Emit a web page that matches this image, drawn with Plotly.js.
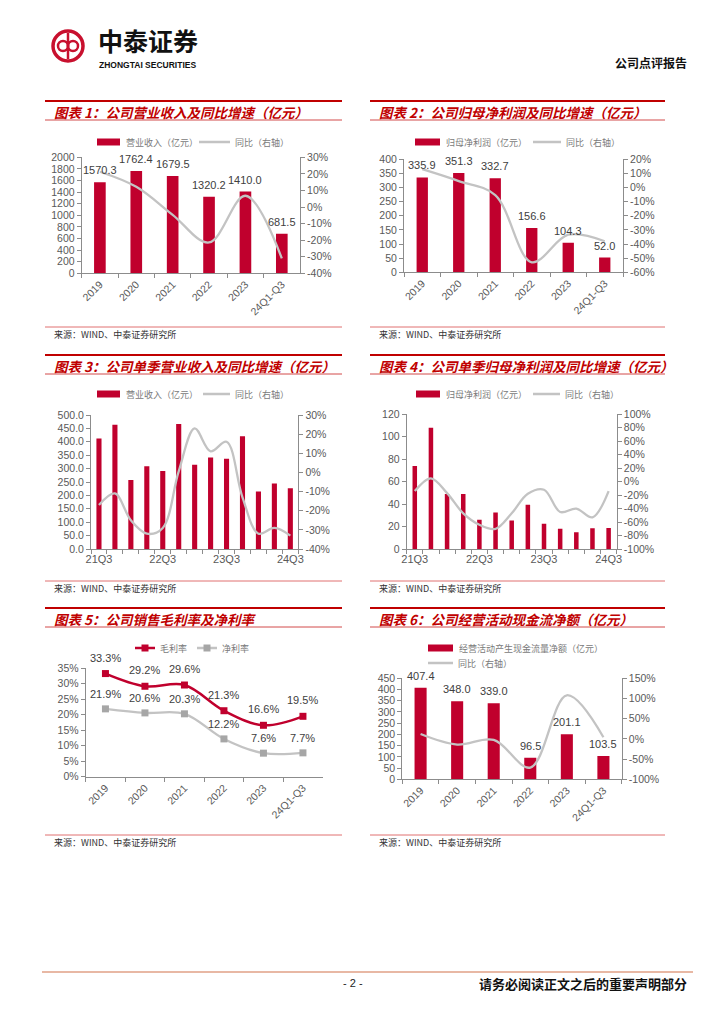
<!DOCTYPE html>
<html><head><meta charset="utf-8">
<script src="https://cdn.plot.ly/plotly-3.0.1.min.js"></script>
<style>html,body{margin:0;padding:0;background:#fff;}#page{width:724px;height:1024px;}</style>
</head><body><div id="page"></div>
<script>
// ---------------- data ----------------
const years = ['2019','2020','2021','2022','2023','24Q1-Q3'];
const revenue = [1570.3,1762.4,1679.5,1320.2,1410.0,681.5];
const revenueYoY = [21.3,12.2,-4.7,-21.4,6.8,-31.0];
const netProfit = [335.9,351.3,332.7,156.6,104.3,52.0];
const netProfitYoY = [13.0,4.6,-5.3,-52.9,-33.4,-38.0];
const quarters = ['21Q3','21Q4','22Q1','22Q2','22Q3','22Q4','23Q1','23Q2','23Q3','23Q4','24Q1','24Q2','24Q3'];
const qRevenue = [412,464,257,309,291,466,314,341,337,421,215,244,227];
const qRevenueYoY = [-17,-11,-25,-32,-29,0.5,23,11,16,-13,-32,-29,-33];
const qNetProfit = [74,108,49,49,26,32.5,25.5,39.5,22.5,18,15,18.5,18.7];
const qNetProfitYoY = [-14,5,-17,-47,-64,-70,-47,-18,-12,-45,-40,-53,-14];
const grossMargin = [33.3,29.2,29.6,21.3,16.6,19.5];
const netMargin = [21.9,20.6,20.3,12.2,7.6,7.7];
const opCashFlow = [407.4,348.0,339.0,96.5,201.1,103.5];
const opCashFlowYoY = [12,-14,-2.6,-71,108,4];
const quarterLabelEvery = 4;

// ---------------- helpers ----------------
const W=724,H=1024;
const X=p=>p/W, Y=p=>1-p/H;
const RED='#C0002D', GRAY='#C3C3C3', GRAYM='#A6A6A6', AX='#8C8C8C', TX='#595959', LBL='#404040', HRED='#C00000';
const FONT='Liberation Sans, Arial, sans-serif';
const CJK='Noto Sans CJK SC, sans-serif';

function pctTicks(lo,hi,step){const v=[],t=[];for(let a=lo;a<=hi+1e-9;a+=step){v.push(a);t.push(a+'%');}return {tickmode:'array',tickvals:v,ticktext:t};}
const baseAx = {showline:true,linecolor:AX,linewidth:1,ticks:'outside',ticklen:4,tickcolor:AX,showgrid:false,zeroline:false,fixedrange:true,tickfont:{family:FONT,size:10.5,color:TX}};
function yLeft(t,b,anchor,range,dtick,extra){return Object.assign({},baseAx,{domain:[Y(b),Y(t)],anchor:anchor,range:range,dtick:dtick,tick0:0},extra||{});}
function yRight(over,anchor,range,step){return Object.assign({},baseAx,{overlaying:over,side:'right',anchor:anchor,range:range},pctTicks(range[0],range[1],step));}
function xYears(l,r,anchor){return Object.assign({},baseAx,{domain:[X(l),X(r)],anchor:anchor,type:'category',range:[-0.5,years.length-0.5],tickson:'boundaries',tickangle:-45});}
function xQuarters(l,r,anchor){return Object.assign({},baseAx,{domain:[X(l),X(r)],anchor:anchor,type:'category',range:[-0.5,quarters.length-0.5],tickson:'boundaries',tickangle:0,tickmode:'array',tickvals:quarters,ticktext:quarters.map((q,i)=>i%quarterLabelEvery===0?q:''),tickfont:{family:FONT,size:11,color:TX}});}

const lineStyle = {color:GRAY,width:2.3,shape:'spline',smoothing:1};
const traces = [];
function bar(x,y,xa,ya,w,name){traces.push({type:'bar',x:x,y:y,xaxis:xa,yaxis:ya,width:w,marker:{color:RED,line:{width:0}},name:name,hoverinfo:'skip',cliponaxis:false});}
function line(x,y,xa,ya,name){traces.push({type:'scatter',mode:'lines',x:x,y:y,xaxis:xa,yaxis:ya,line:lineStyle,name:name,hoverinfo:'skip',cliponaxis:false});}

bar(years,revenue,'x','y',0.32,'营业收入（亿元）'); line(years,revenueYoY,'x','y2','同比（右轴）');
bar(years,netProfit,'x2','y3',0.31,'归母净利润（亿元）'); line(years,netProfitYoY,'x2','y4','同比（右轴）');
bar(quarters,qRevenue,'x3','y5',0.32,'营业收入（亿元）'); line(quarters,qRevenueYoY,'x3','y6','同比（右轴）');
bar(quarters,qNetProfit,'x4','y7',0.28,'归母净利润（亿元）'); line(quarters,qNetProfitYoY,'x4','y8','同比（右轴）');
traces.push({type:'scatter',mode:'lines+markers',x:years,y:grossMargin,xaxis:'x5',yaxis:'y9',name:'毛利率',line:{color:RED,width:2.5,shape:'spline',smoothing:1},marker:{symbol:'square',size:7,color:RED},cliponaxis:false,hoverinfo:'skip'});
traces.push({type:'scatter',mode:'lines+markers',x:years,y:netMargin,xaxis:'x5',yaxis:'y9',name:'净利率',line:{color:GRAY,width:2.3,shape:'spline',smoothing:1},marker:{symbol:'square',size:7,color:GRAYM},cliponaxis:false,hoverinfo:'skip'});
bar(years,opCashFlow,'x6','y10',0.33,'经营活动产生现金流量净额（亿元）'); line(years,opCashFlowYoY,'x6','y11','同比（右轴）');

// ---------------- layout ----------------
const layout = {
  width:W,height:H,margin:{l:0,r:0,t:0,b:0},paper_bgcolor:'#fff',plot_bgcolor:'rgba(0,0,0,0)',showlegend:false,
  xaxis:xYears(81.7,300,'y'),
  yaxis:yLeft(157.3,273.3,'x',[0,2000],200),
  yaxis2:yRight('y','x',[-40,30],10),
  xaxis2:xYears(404,623,'y3'),
  yaxis3:yLeft(159.3,272.3,'x2',[0,400],50),
  yaxis4:yRight('y3','x2',[-60,20],10),
  xaxis3:xQuarters(91,298.3,'y5'),
  yaxis5:yLeft(415,549,'x3',[0,500],50,{tickformat:'.1f'}),
  yaxis6:yRight('y5','x3',[-40,30],10),
  xaxis4:xQuarters(406.7,616.7,'y7'),
  yaxis7:yLeft(414.3,549,'x4',[0,120],20),
  yaxis8:yRight('y7','x4',[-100,100],20),
  xaxis5:xYears(85.7,322.7,'y9'),
  yaxis9:Object.assign(yLeft(668.3,776.7,'x5',[0,35],5),pctTicks(0,35,5)),
  xaxis6:xYears(402.3,621.7,'y10'),
  yaxis10:yLeft(678.3,779.3,'x6',[0,450],50),
  yaxis11:yRight('y10','x6',[-100,150],50),
  shapes:[],annotations:[]
};
const S=layout.shapes, A=layout.annotations;
function hline(x0,x1,y,color,w){S.push({type:'line',xref:'paper',yref:'paper',x0:X(x0),x1:X(x1),y0:Y(y),y1:Y(y),line:{color:color,width:w}});}
function txt(x,y,text,font,xanchor){A.push({xref:'paper',yref:'paper',x:X(x),y:Y(y),text:text,showarrow:false,xanchor:xanchor||'left',yanchor:'middle',font:font});}
const titleFont={family:CJK,size:13.5,color:HRED,weight:'bold',style:'italic'};
const srcFont={family:CJK,size:9,color:'#333'};
const legFont={family:CJK,size:9,color:'#7A7A7A'};

// headers of chart panels
function panel(x0,x1,top,title,srcY){
  hline(x0,x1,top,HRED,2);
  txt(x0+7,top+11,title,titleFont);
  hline(x0,x1,top+19,'#D24B4B',1);
  hline(x0,x1,srcY-7,'#E07070',1);
  txt(x0+7,srcY,'来源：WIND、中泰证券研究所',srcFont);
}
panel(45,342,101,'图表 1：公司营业收入及同比增速（亿元）',334);
panel(370,665,101,'图表 2：公司归母净利润及同比增速（亿元）',334);
panel(45,342,355,'图表 3：公司单季营业收入及同比增速（亿元）',588);
panel(370,665,355,'图表 4：公司单季归母净利润及同比增速（亿元）',588);
panel(45,342,608,'图表 5：公司销售毛利率及净利率',842);
panel(370,665,608,'图表 6：公司经营活动现金流净额（亿元）',842);

// legends
function legBar(x0,x1,y,label){S.push({type:'rect',xref:'paper',yref:'paper',x0:X(x0),x1:X(x1),y0:Y(y+3.5),y1:Y(y-3.5),fillcolor:RED,line:{width:0}});txt(x1+4,y,label,legFont);}
function legLine(x0,x1,y,label,color,marker){S.push({type:'line',xref:'paper',yref:'paper',x0:X(x0),x1:X(x1),y0:Y(y),y1:Y(y),line:{color:color,width:2.5}});
  if(marker){const c=(x0+x1)/2;S.push({type:'rect',xref:'paper',yref:'paper',x0:X(c-3.5),x1:X(c+3.5),y0:Y(y+3.5),y1:Y(y-3.5),fillcolor:marker,line:{width:0}});}
  txt(x1+3,y,label,legFont);}
legBar(97,120,142,'营业收入（亿元）'); legLine(199,230,142,'同比（右轴）',GRAY);
legBar(415,440,142,'归母净利润（亿元）'); legLine(533,561,142,'同比（右轴）',GRAY);
legBar(97,120,394,'营业收入（亿元）'); legLine(203,230,394,'同比（右轴）',GRAY);
legBar(416,440,394,'归母净利润（亿元）'); legLine(533,560,394,'同比（右轴）',GRAY);
legLine(135,155,648,'毛利率',RED,RED); legLine(197,217,648,'净利率',GRAY,GRAYM);
legBar(428,453,648,'经营活动产生现金流量净额（亿元）'); legLine(428,453,663,'同比（右轴）',GRAY);

// data labels (x given as category index so numeric-looking categories are placed correctly)
const lblFont={family:FONT,size:11,color:LBL};
function labels(cats,ys,xa,ya,shift,fmt){cats.forEach((c,i)=>A.push({xref:xa,yref:ya,x:i,y:ys[i],text:fmt(ys[i]),showarrow:false,yanchor:'bottom',yshift:shift,font:lblFont}));}
labels(years,revenue,'x','y',4,v=>v.toFixed(1));
labels(years,netProfit,'x2','y3',4,v=>v.toFixed(1));
labels(years,grossMargin,'x5','y9',8,v=>v.toFixed(1)+'%');
labels(years,netMargin,'x5','y9',7,v=>v.toFixed(1)+'%');
labels(years,opCashFlow,'x6','y10',4,v=>v.toFixed(1));

// page header
S.push({type:'circle',xref:'paper',yref:'paper',x0:X(53),x1:X(83),y0:Y(61),y1:Y(31),line:{color:'#C8102E',width:3.5}});
S.push({type:'circle',xref:'paper',yref:'paper',x0:X(58),x1:X(68),y0:Y(51),y1:Y(41),line:{color:'#C8102E',width:2.5}});
S.push({type:'circle',xref:'paper',yref:'paper',x0:X(68),x1:X(78),y0:Y(51),y1:Y(41),line:{color:'#C8102E',width:2.5}});
S.push({type:'line',xref:'paper',yref:'paper',x0:X(68),x1:X(68),y0:Y(33),y1:Y(59),line:{color:'#C8102E',width:2.5}});
txt(96,40,'中泰证券',{family:CJK,size:25,color:'#111',weight:'bold'});
txt(97,65,'ZHONGTAI SECURITIES',{family:'Liberation Sans, Arial, sans-serif',size:8.5,color:'#111',weight:'bold'});
txt(689,62,'公司点评报告',{family:CJK,size:12,color:'#111',weight:'bold'},'right');

// footer
hline(42,693,972,'#E8B8A4',2);
txt(353,983,'- 2 -',{family:FONT,size:11,color:'#222'},'center');
txt(689,983,'请务必阅读正文之后的重要声明部分',{family:CJK,size:13,color:'#111',weight:'bold'},'right');

Plotly.newPlot('page',traces,layout,{staticPlot:true,displayModeBar:false});
</script></body></html>
